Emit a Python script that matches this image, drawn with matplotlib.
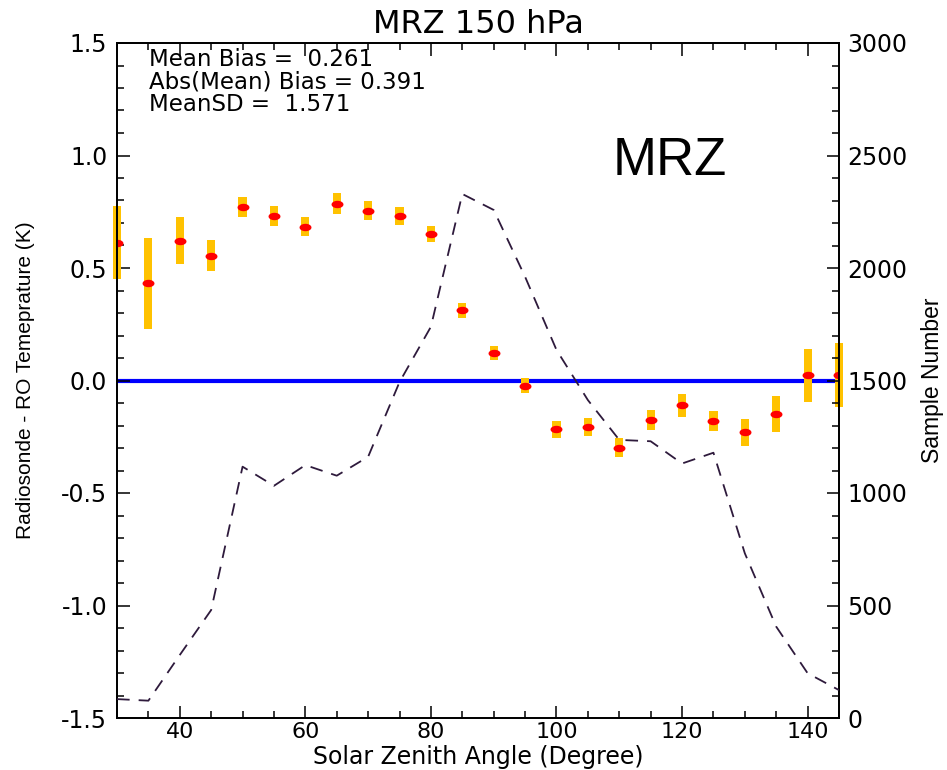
import numpy as np
import matplotlib
matplotlib.use("Agg")
import matplotlib.pyplot as plt
from matplotlib.path import Path
from matplotlib.ticker import MultipleLocator

# Solar zenith angle bins (degrees)
sza = [30, 35, 40, 45, 50, 55, 60, 65, 70, 75, 80, 85,
       90, 95, 100, 105, 110, 115, 120, 125, 130, 135, 140, 145]

# Mean temperature difference (radiosonde - RO), K
bias = [0.612, 0.432, 0.621, 0.555, 0.770, 0.730, 0.684, 0.786,
        0.755, 0.731, 0.652, 0.312, 0.121, -0.024, -0.217, -0.205,
        -0.299, -0.177, -0.110, -0.179, -0.230, -0.150, 0.023, 0.024]

# Half-height of the uncertainty bar around each mean, K
spread = [0.163, 0.201, 0.105, 0.068, 0.045, 0.045, 0.042, 0.046,
          0.043, 0.040, 0.036, 0.033, 0.032, 0.033, 0.038, 0.040,
          0.043, 0.044, 0.050, 0.045, 0.060, 0.079, 0.117, 0.142]

# Number of collocated samples per bin
samples = [84, 77, 280, 480, 1117, 1032, 1124, 1077, 1161, 1493, 1739, 2329,
           2258, 1961, 1636, 1413, 1236, 1230, 1131, 1179, 732, 406, 199, 124]

title = "MRZ 150 hPa"
station = "MRZ"
stats_lines = ["Mean Bias =  0.261", "Abs(Mean) Bias = 0.391", "MeanSD =  1.571"]

plt.rcParams["font.family"] = ["DejaVu Sans"]

W, H = 947, 770
fig = plt.figure(figsize=(W / 100, H / 100), dpi=100)
ax = fig.add_axes([117 / W, 1 - 718 / H, (839 - 117) / W, (718 - 43) / H])
ax2 = ax.twinx()

x = np.array(sza, dtype=float)
b = np.array(bias)
s = np.array(spread)

# zero reference line
ax.axhline(0.0, color="#0000FF", lw=3.0, zorder=1)

# uncertainty bars
ax.bar(x, 2 * s, bottom=b - s, width=1.3, color="#FFC200",
       edgecolor="none", zorder=2, clip_on=False)

# mean values as flattened red ellipses
t = np.linspace(0, 2 * np.pi, 48)
ellipse = Path(np.column_stack([np.cos(t), 0.62 * np.sin(t)]), closed=True)
ax.plot(x, b, linestyle="none", marker=ellipse, markersize=8.6,
        color="#FF0000", markeredgewidth=0, zorder=3)

# sample counts on the right axis
ax2.plot(x, samples, color="#2E1A3C", lw=1.3, dashes=(7, 5), zorder=4)

ax.set_xlim(30, 145)
ax.set_ylim(-1.5, 1.5)
ax2.set_ylim(0, 3000)

ax.xaxis.set_major_locator(MultipleLocator(20))
ax.xaxis.set_minor_locator(MultipleLocator(5))
ax.yaxis.set_major_locator(MultipleLocator(0.5))
ax.yaxis.set_minor_locator(MultipleLocator(0.1))
ax2.yaxis.set_major_locator(MultipleLocator(500))
ax2.yaxis.set_minor_locator(MultipleLocator(100))
ax.yaxis.set_major_formatter(plt.FuncFormatter(lambda v, p: f"{v:.1f}"))

ax.tick_params(axis="both", which="both", direction="in", width=1.1,
               labelsize=17, colors="black")
ax.tick_params(axis="x", which="both", top=True, bottom=True, labelsize=16)
ax.tick_params(axis="x", which="major", length=9, pad=3)
ax.tick_params(axis="x", which="minor", length=5)
ax.tick_params(axis="y", which="major", length=9, pad=7, left=True, right=False)
ax.tick_params(axis="y", which="minor", length=5, left=True, right=False)
ax2.tick_params(axis="y", which="both", direction="in", width=1.1,
                labelsize=17, pad=6)
ax2.tick_params(axis="y", which="major", length=9)
ax2.tick_params(axis="y", which="minor", length=5)

for a in (ax, ax2):
    for sp in a.spines.values():
        sp.set_linewidth(1.3)
        sp.set_color("black")

ax.set_title(title, fontsize=23, pad=7)
ax.set_xlabel("Solar Zenith Angle (Degree)", fontsize=17, va="baseline")
ax.xaxis.set_label_coords(0.5, (718 - 764) / (718 - 43))
ax.set_ylabel("Radiosonde - RO Temeprature (K)", fontsize=15,
              family=["Liberation Sans", "DejaVu Sans"], labelpad=19)
ax2.set_ylabel("Sample Number", fontsize=16.5,
               family=["Liberation Sans", "DejaVu Sans"], labelpad=10)

# statistics block, positioned in figure pixels measured from the top
for i, line in enumerate(stats_lines):
    ax.text(149, H - (66 + 22.5 * i), line, transform=None, fontsize=16.5,
            va="baseline", ha="left")

ax.text(613, H - 175, station, transform=None, fontsize=38,
        family=["Liberation Sans", "DejaVu Sans"], va="baseline", ha="left")

fig.savefig("out.png", dpi=100)
